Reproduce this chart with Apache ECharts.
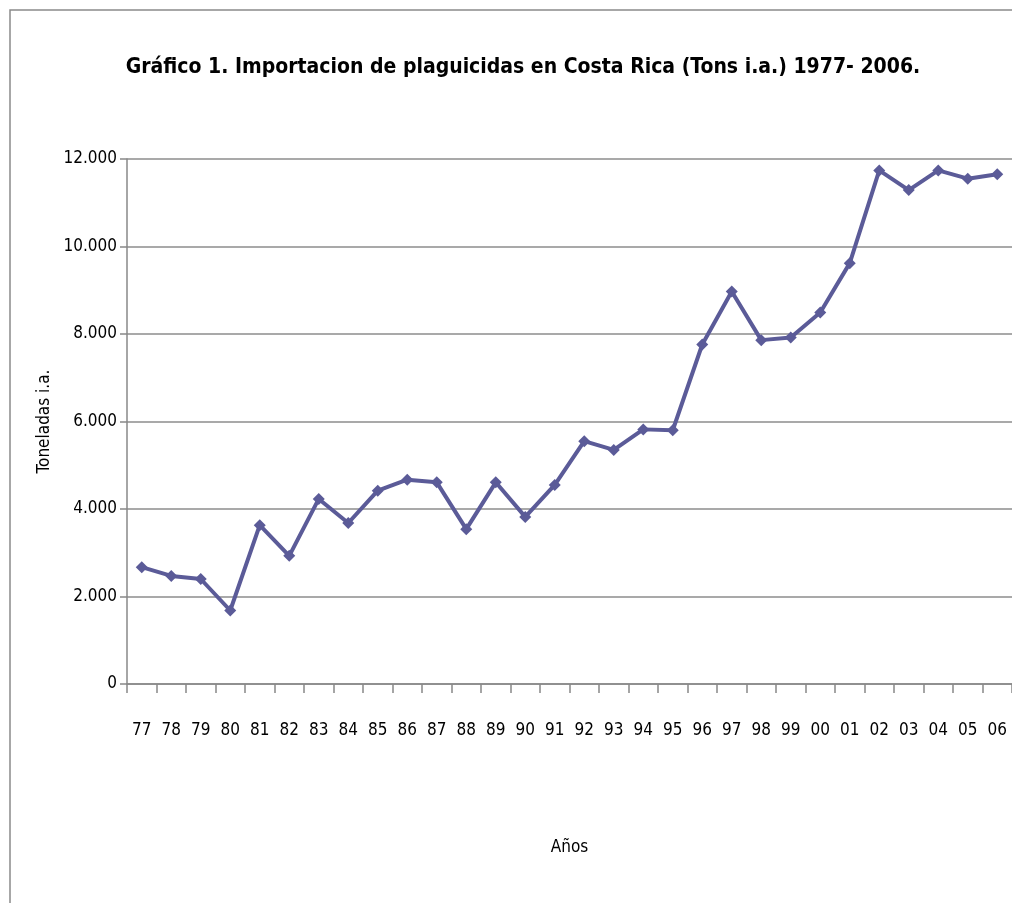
<!DOCTYPE html>
<html>
<head>
<meta charset="utf-8">
<script src="https://cdn.jsdelivr.net/npm/echarts@6/dist/echarts.min.js"></script>
<style>
  html, body { margin: 0; padding: 0; background: #fff; }
  #chart { width: 1012px; height: 903px; }
</style>
</head>
<body>
<div id="chart"></div>
<script>
// años (categorias del eje x)
var anios = ['77','78','79','80','81','82','83','84','85','86','87','88','89','90','91',
             '92','93','94','95','96','97','98','99','00','01','02','03','04','05','06'];
// toneladas de ingrediente activo
var toneladas = [2670, 2470, 2400, 1680, 3630, 2930, 4230, 3680, 4420, 4670, 4610, 3540, 4610, 3820, 4550,
                 5550, 5350, 5820, 5800, 7760, 8970, 7860, 7920, 8490, 9620, 11740, 11290, 11740, 11550, 11650];

var fuente = '"DejaVu Sans Condensed", "Liberation Sans Narrow", sans-serif';

var myChart = echarts.init(document.getElementById('chart'));

var option = {
    backgroundColor: '#fff',
    animation: false,
    graphic: [{
        type: 'rect',
        shape: { x: 10, y: 10, width: 1100, height: 1000 },
        style: { fill: 'none', stroke: '#8a8a8a', lineWidth: 1.5 }
    }],
    title: {
        text: 'Gráfico 1. Importacion de plaguicidas en Costa Rica (Tons i.a.) 1977- 2006.',
        left: 518,
        textAlign: 'center',
        top: 52,
        textStyle: { fontFamily: fuente, fontWeight: 'bold', fontSize: 21, color: '#000' }
    },
    grid: {
        left: 127,
        right: 0,
        top: 159,
        bottom: 219
    },
    xAxis: {
        type: 'category',
        data: anios,
        boundaryGap: true,
        name: 'Años',
        nameLocation: 'middle',
        nameGap: 155,
        nameTextStyle: { fontFamily: fuente, fontSize: 17, color: '#000' },
        axisLine: { lineStyle: { color: '#888', width: 1.5 } },
        axisTick: { show: true, length: 9, alignWithLabel: false, lineStyle: { color: '#888', width: 1.5 } },
        axisLabel: { fontFamily: fuente, fontSize: 17, color: '#000', margin: 38, interval: 0 }
    },
    yAxis: {
        type: 'value',
        min: 0,
        max: 12000,
        interval: 2000,
        name: 'Toneladas i.a.',
        nameLocation: 'middle',
        nameRotate: 90,
        nameGap: 74,
        nameTextStyle: { fontFamily: fuente, fontSize: 17, color: '#000' },
        axisLine: { show: true, lineStyle: { color: '#888', width: 1.5 } },
        axisTick: { show: true, length: 7, lineStyle: { color: '#888', width: 1.5 } },
        axisLabel: {
            fontFamily: fuente, fontSize: 17, color: '#000', margin: 10,
            formatter: function (v) { return v.toString().replace(/\B(?=(\d{3})+(?!\d))/g, '.'); }
        },
        splitLine: { lineStyle: { color: '#8c8c8c', width: 1.5 } }
    },
    series: [{
        name: 'Toneladas',
        type: 'line',
        data: toneladas,
        symbol: 'diamond',
        symbolSize: 12,
        lineStyle: { color: '#5b5b98', width: 4 },
        itemStyle: { color: '#5b5b98' }
    }]
};

myChart.setOption(option);
</script>
</body>
</html>
